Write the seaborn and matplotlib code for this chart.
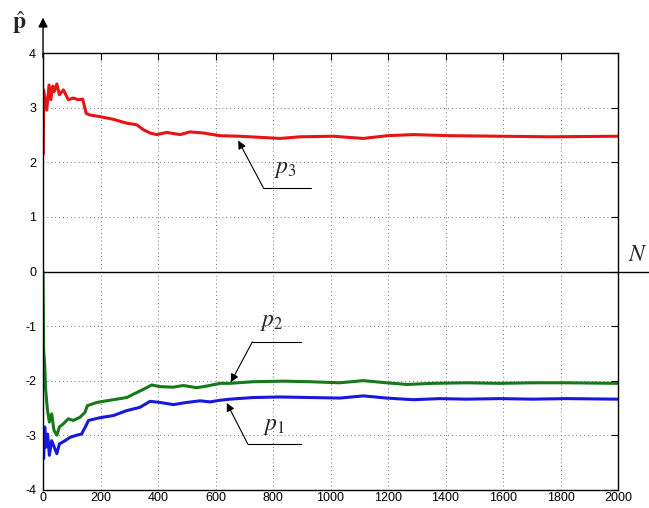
import matplotlib
matplotlib.use("Agg")
import matplotlib.pyplot as plt
import seaborn as sns

# estimates
n_p3 = [1, 2, 13, 21, 27, 34, 39, 48, 57, 71, 88, 105, 123, 138, 150, 163, 198, 245,
        291, 326, 349, 372, 395, 430, 477, 511, 558, 592, 616, 685, 824, 894, 1010,
        1114, 1197, 1288, 1416, 1590, 1763, 2000]
p3 = [2.15, 3.33, 2.96, 3.42, 3.15, 3.40, 3.30, 3.44, 3.24, 3.33, 3.15, 3.18, 3.15,
      3.16, 2.90, 2.87, 2.84, 2.79, 2.72, 2.69, 2.60, 2.54, 2.51, 2.55, 2.51, 2.56,
      2.54, 2.51, 2.49, 2.48, 2.44, 2.47, 2.48, 2.44, 2.49, 2.51, 2.49, 2.48, 2.47, 2.48]

n_p2 = [0, 2, 6, 9, 15, 22, 30, 38, 48, 57, 71, 88, 105, 129, 146, 154, 187, 221, 256,
        291, 314, 349, 378, 407, 453, 488, 534, 569, 616, 650, 731, 835, 928, 1032,
        1114, 1195, 1265, 1357, 1473, 1589, 1705, 1821, 2000]
p2 = [0.0, -1.43, -1.73, -2.16, -2.52, -2.76, -2.61, -2.91, -3.00, -2.85, -2.79, -2.70,
      -2.73, -2.67, -2.58, -2.46, -2.40, -2.37, -2.34, -2.31, -2.25, -2.16, -2.08, -2.11,
      -2.12, -2.09, -2.13, -2.10, -2.05, -2.05, -2.02, -2.01, -2.02, -2.04, -2.00, -2.04,
      -2.07, -2.05, -2.04, -2.05, -2.04, -2.04, -2.05]

n_p1 = [1, 2, 6, 10, 16, 22, 30, 39, 48, 57, 77, 94, 117, 134, 150, 158, 198, 245, 291,
        337, 372, 407, 453, 500, 546, 581, 616, 650, 731, 824, 928, 1032, 1114, 1195,
        1288, 1380, 1473, 1589, 1705, 1821, 2000]
p1 = [-3.0, -3.43, -2.85, -3.22, -2.98, -3.37, -3.10, -3.22, -3.34, -3.16, -3.10, -3.04,
      -3.00, -2.98, -2.82, -2.73, -2.68, -2.64, -2.55, -2.49, -2.38, -2.40, -2.44, -2.40,
      -2.37, -2.39, -2.36, -2.34, -2.31, -2.30, -2.31, -2.32, -2.28, -2.32, -2.35, -2.33,
      -2.34, -2.33, -2.34, -2.33, -2.34]

x_ticks = list(range(0, 2001, 200))
y_ticks = [-4, -3, -2, -1, 0, 1, 2, 3, 4]

# callouts: label, label position, arrow tip, elbow, end of leader
callouts = [
    (r"$p_3$", (844, 1.88), (679, 2.40), (766, 1.54), 931),
    (r"$p_2$", (797, -0.93), (653, -2.03), (728, -1.29), 897),
    (r"$p_1$", (803, -2.84), (639, -2.41), (712, -3.16), 897),
]

sns.set_style("white")
plt.rcParams["font.family"] = ["Liberation Sans", "DejaVu Sans"]
plt.rcParams["mathtext.fontset"] = "stix"
plt.rcParams["axes.unicode_minus"] = False

fig = plt.figure(figsize=(6.49, 5.08), dpi=100)
ax = fig.add_axes([0.0663, 0.036, 0.886, 0.859])

sns.lineplot(x=n_p3, y=p3, ax=ax, color="#e61414", linewidth=2.2)
sns.lineplot(x=n_p2, y=p2, ax=ax, color="#16781a", linewidth=2.2)
sns.lineplot(x=n_p1, y=p1, ax=ax, color="#1818dc", linewidth=2.2)

ax.set_xlim(0, 2000)
ax.set_ylim(-4, 4)
ax.set_xticks(x_ticks)
ax.set_yticks(y_ticks)
ax.grid(True, linestyle=(0, (1, 3)), color="0.45", linewidth=0.7)
ax.tick_params(direction="in", length=5, top=True, right=True, labelsize=9,
               colors="black")
ax.tick_params(axis="x", pad=2)
ax.tick_params(axis="y", pad=5)
for s in ax.spines.values():
    s.set_color("black")
    s.set_linewidth(1.0)

# N axis line running past the right edge
ax.plot([0, 1.06], [0, 0], transform=ax.get_yaxis_transform(), color="black",
        lw=1.0, clip_on=False)
# vertical axis arrow above the box
ax.annotate("", xy=(0, 1.082), xytext=(0, 0.99), xycoords="axes fraction",
            arrowprops=dict(arrowstyle="-|>", color="black", lw=1.0,
                            mutation_scale=14, shrinkA=0, shrinkB=0))

for lab, pos, tip, elbow, end in callouts:
    ax.plot([end, elbow[0]], [elbow[1], elbow[1]], color="black", lw=0.8)
    ax.annotate("", xy=tip, xytext=elbow,
                arrowprops=dict(arrowstyle="-|>", color="black", lw=0.8,
                                mutation_scale=12, shrinkA=0, shrinkB=0))
    ax.text(pos[0], pos[1], lab, fontsize=17, ha="center", va="center")

fig.text(0.029, 0.955, r"$\hat{\mathbf{p}}$", fontsize=17, ha="center", va="center")
fig.text(0.983, 0.498, r"$N$", fontsize=17, ha="center", va="center")

fig.savefig("out.png", dpi=100)
